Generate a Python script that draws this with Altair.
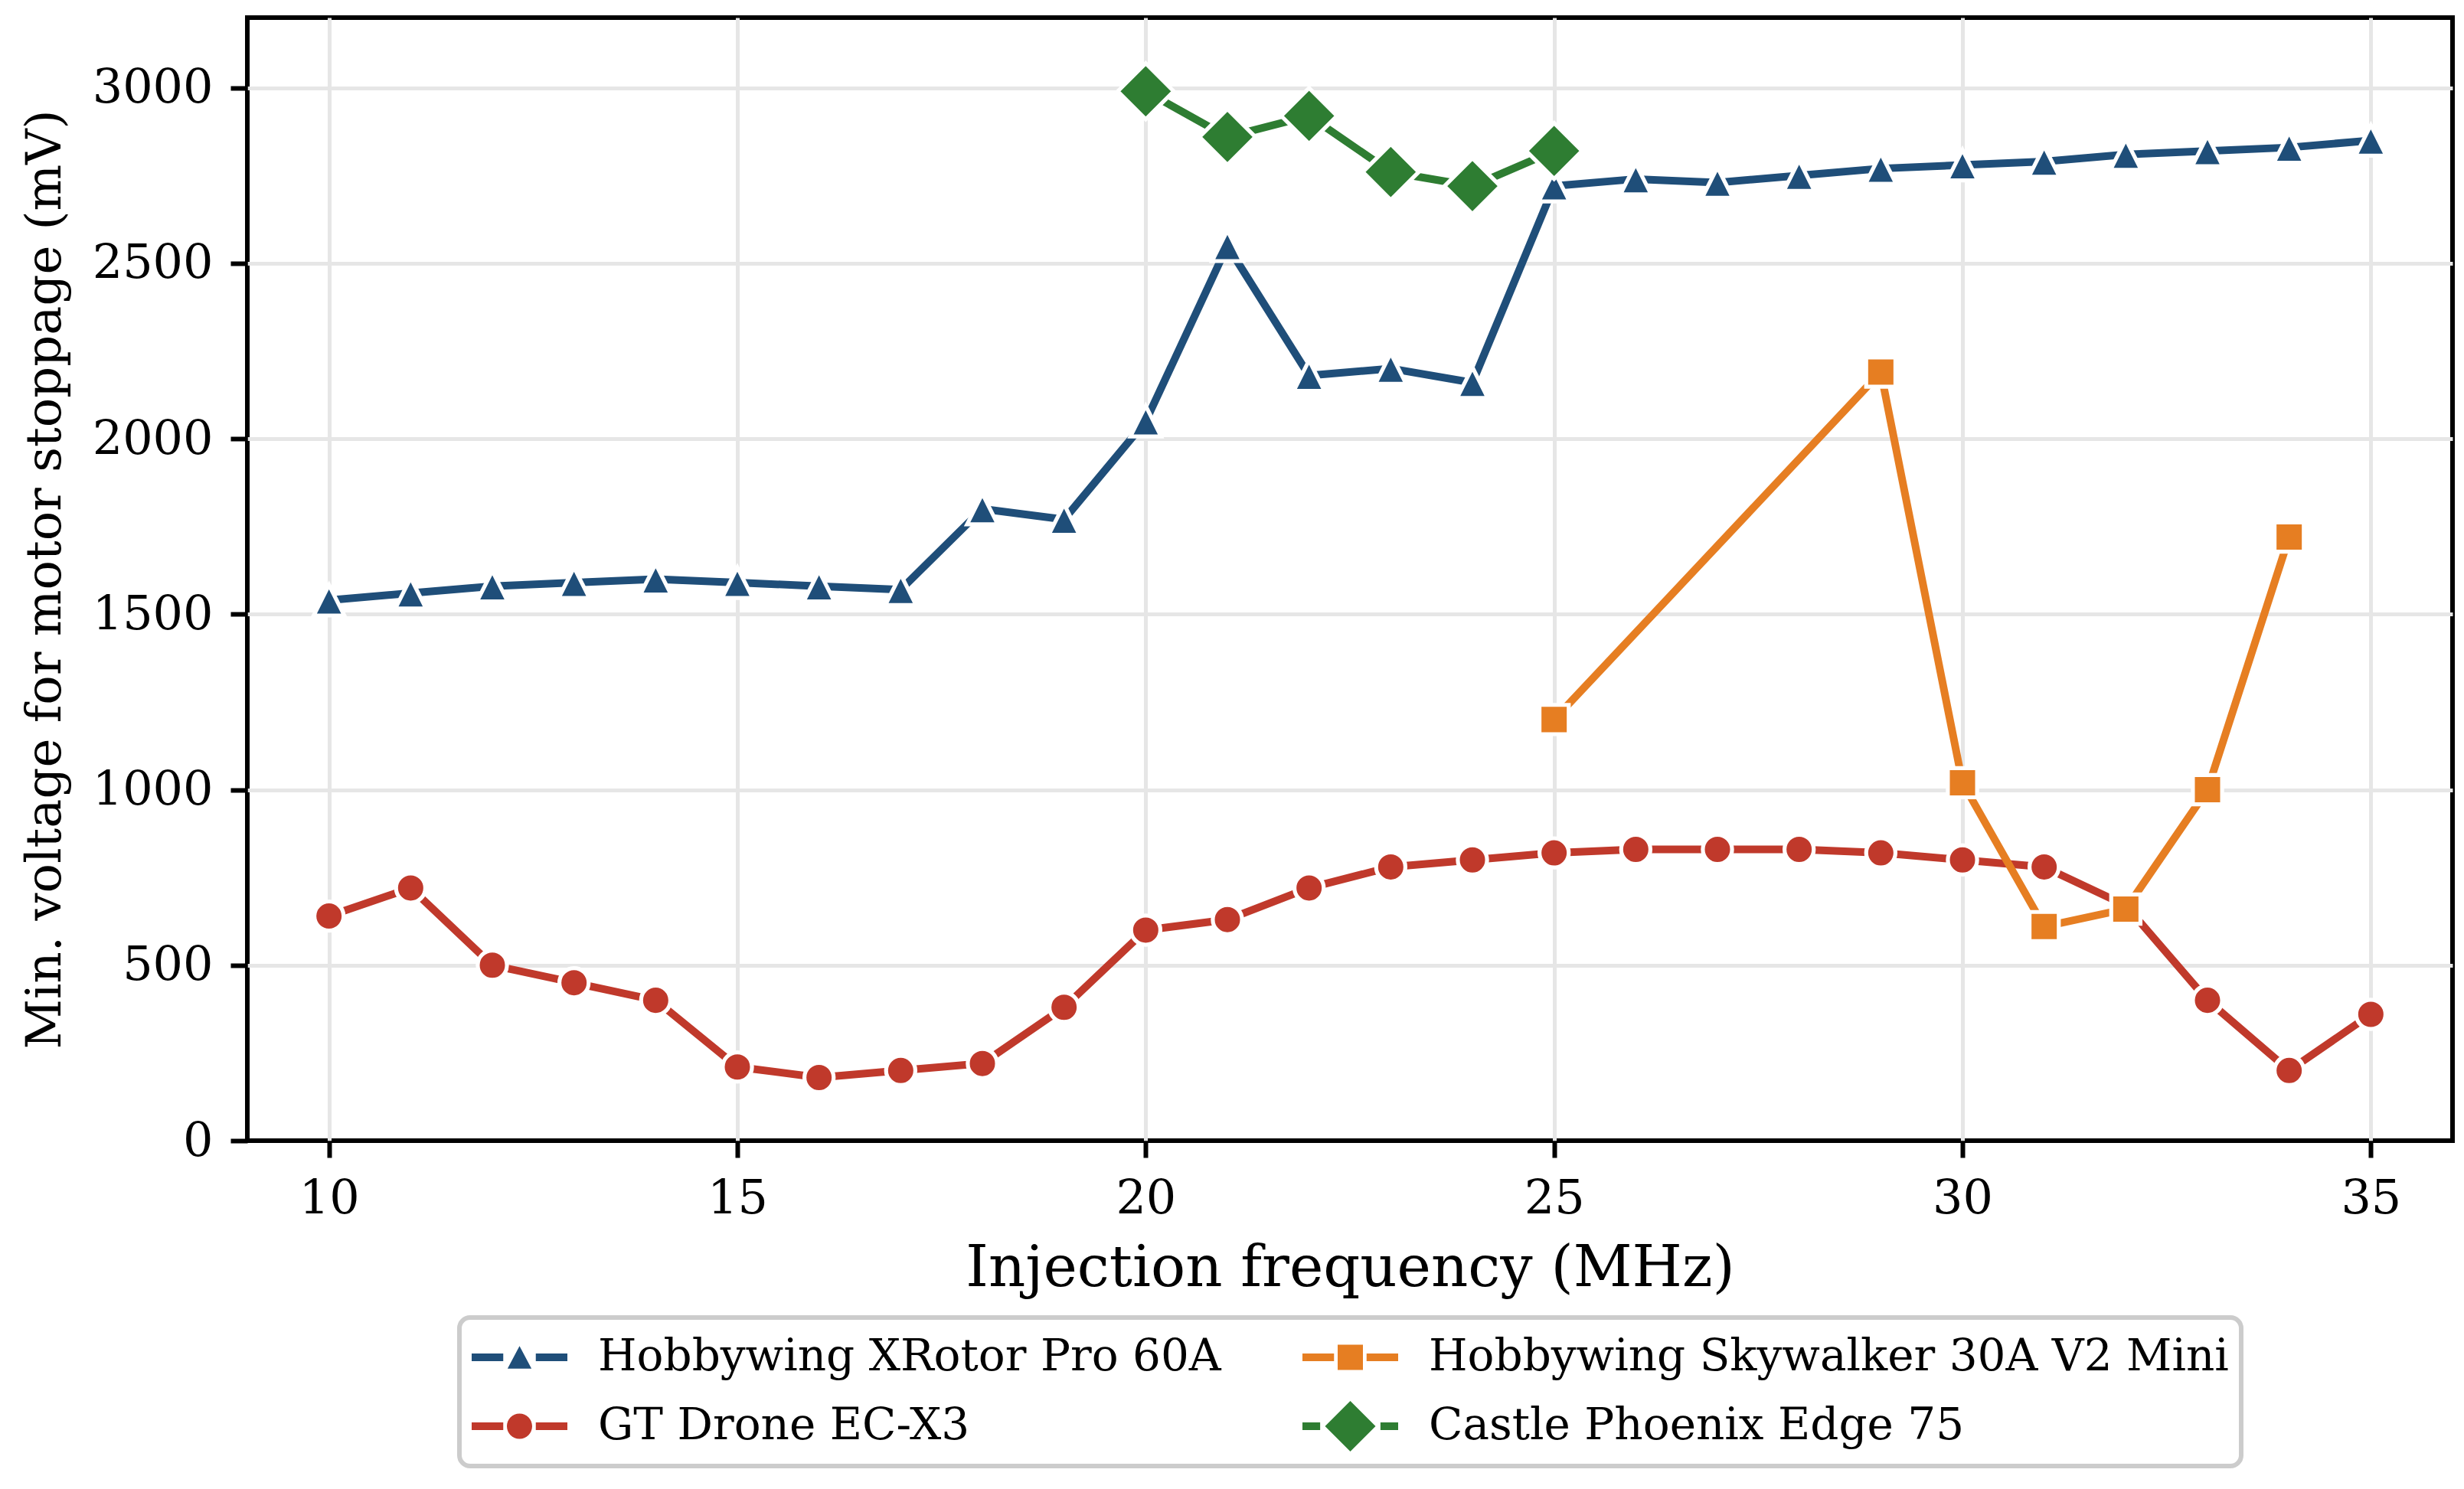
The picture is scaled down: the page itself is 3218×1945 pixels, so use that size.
import altair as alt
import pandas as pd

# ---------------- data ----------------
series_names = [
    "Hobbywing XRotor Pro 60A",
    "GT Drone EC-X3",
    "Hobbywing Skywalker 30A V2 Mini",
    "Castle Phoenix Edge 75",
]

freq_xrotor = list(range(10, 36))
mv_xrotor = [1540, 1560, 1580, 1590, 1600, 1590, 1580, 1570, 1800, 1770,
             2050, 2550, 2180, 2200, 2160, 2720, 2740, 2730, 2750, 2770,
             2780, 2790, 2810, 2820, 2830, 2850]

freq_gt = list(range(10, 36))
mv_gt = [640, 720, 500, 450, 400, 210, 180, 200, 220, 380,
         600, 630, 720, 780, 800, 820, 830, 830, 830, 820,
         800, 780, 670, 400, 200, 360]

freq_sky = [25, 29, 30, 31, 32, 33, 34]
mv_sky = [1200, 2190, 1020, 610, 660, 1000, 1720]

freq_castle = [20, 21, 22, 23, 24, 25]
mv_castle = [2990, 2860, 2920, 2760, 2720, 2820]

x_ticks = [10, 15, 20, 25, 30, 35]
y_ticks = [0, 500, 1000, 1500, 2000, 2500, 3000]

rows = []
for name, fx, fy in [
    (series_names[0], freq_xrotor, mv_xrotor),
    (series_names[1], freq_gt, mv_gt),
    (series_names[2], freq_sky, mv_sky),
    (series_names[3], freq_castle, mv_castle),
]:
    for a, b in zip(fx, fy):
        rows.append({"series": name, "freq": a, "mv": b})
df = pd.DataFrame(rows)

# ---------------- style ----------------
FONT = "DejaVu Serif"
colors = {
    series_names[0]: "#1f4e79",
    series_names[1]: "#c0392b",
    series_names[2]: "#e67e22",
    series_names[3]: "#2e7d32",
}
TRI = "M0,-1L1,1L-1,1Z"
marker_shape = {
    series_names[0]: TRI,
    series_names[1]: "circle",
    series_names[2]: "square",
    series_names[3]: "diamond",
}
marker_size = {
    series_names[0]: 1600,
    series_names[1]: 1460,
    series_names[2]: 1460,
    series_names[3]: 5329,
}

t = 0.08
def seg(g):
    return (f"M-1,-{t}L-{g},-{t}L-{g},{t}L-1,{t}Z"
            f"M{g},-{t}L1,-{t}L1,{t}L{g},{t}Z")

legend_marker = {
    series_names[0]: "M0,-0.235L0.25,0.235L-0.25,0.235Z" + seg(0.34),
    series_names[1]: "M0.264,0A0.264,0.264,0,1,1,-0.264,0A0.264,0.264,0,1,1,0.264,0Z" + seg(0.34),
    series_names[2]: "M-0.264,-0.264L0.264,-0.264L0.264,0.264L-0.264,0.264Z" + seg(0.34),
    series_names[3]: "M0,-0.528L0.528,0L0,0.528L-0.528,0Z" + seg(0.63),
}
# legend fills column by column: XRotor, GT | Skywalker, Castle
legend_order = series_names

x_enc = alt.X(
    "freq:Q",
    scale=alt.Scale(domain=[9, 36], nice=False, zero=False),
    axis=alt.Axis(values=x_ticks, title="Injection frequency (MHz)",
                  titleFontSize=75, titlePadding=24, format="d"),
)
y_enc = alt.Y(
    "mv:Q",
    scale=alt.Scale(domain=[0, 3200], nice=False, zero=False),
    axis=alt.Axis(values=y_ticks, title="Min. voltage for motor stoppage (mV)",
                  titleFontSize=64, titlePadding=32, format="d",
                  gridOpacity=alt.condition("datum.value === 0", alt.value(0), alt.value(1))),
)

layers = []
for name in series_names:
    sub = alt.Chart(df).transform_filter(alt.datum.series == name)
    layers.append(
        sub.mark_line(color=colors[name], strokeWidth=10, strokeJoin="round",
                      strokeCap="round").encode(x=x_enc, y=y_enc)
    )
    layers.append(
        sub.mark_point(filled=True, shape=marker_shape[name], size=marker_size[name],
                       fill=colors[name], stroke="white", strokeWidth=5.2,
                       opacity=1).encode(x=x_enc, y=y_enc)
    )

leg = alt.Legend(
    title=None, orient="none", legendX=277, legendY=1698, columns=2,
    labelFont=FONT, labelFontSize=58, labelColor="black", labelLimit=3000,
    labelOffset=40, columnPadding=106, rowPadding=18, padding=16,
    clipHeight=72, symbolSize=15625, symbolStrokeWidth=0, symbolOpacity=1,
    strokeColor="#cccccc", fillColor="white", cornerRadius=14,
)

legend_layer = alt.Chart(df).transform_filter("false").mark_point(
    filled=True, opacity=1
).encode(
    x=x_enc, y=y_enc,
    color=alt.Color("series:N",
                    scale=alt.Scale(domain=legend_order,
                                    range=[colors[n] for n in legend_order]),
                    legend=leg),
    shape=alt.Shape("series:N",
                    scale=alt.Scale(domain=legend_order,
                                    range=[legend_marker[n] for n in legend_order]),
                    legend=leg),
)
layers.append(legend_layer)

chart = alt.layer(*layers).properties(
    width=2880, height=1467,
    autosize=alt.AutoSizeParams(type="none"),
    padding={"left": 315, "top": 15, "right": 7, "bottom": 445},
    background="white",
).configure_view(
    stroke="black", strokeWidth=6
).configure_axis(
    labelFont=FONT, labelFontSize=62, labelColor="black", labelPadding=23,
    titleFont=FONT, titleColor="black", titleFontWeight="normal",
    tickSize=22, tickWidth=6, tickColor="black",
    domain=False, grid=True, gridColor="#e6e6e6", gridWidth=5,
).configure_legend(
    strokeWidth=6
)

chart.save("out.html", embed_options={"renderer": "svg", "actions": False})
